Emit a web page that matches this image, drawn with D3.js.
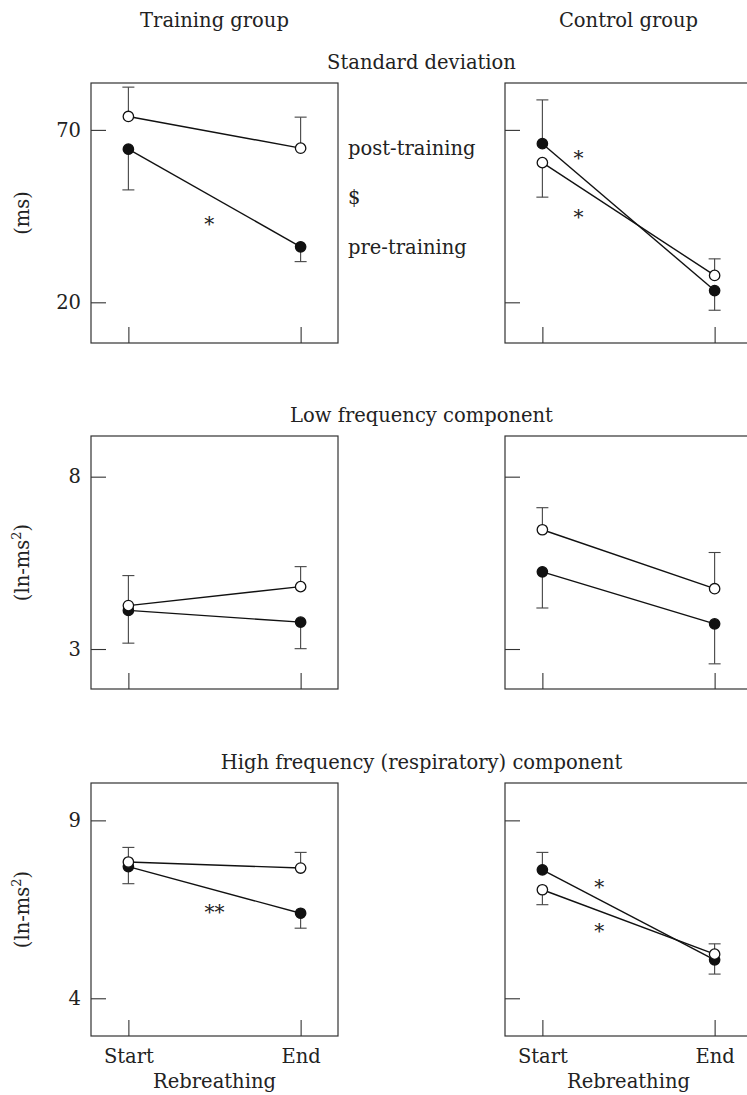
<!DOCTYPE html>
<html>
<head>
<meta charset="utf-8">
<script src="https://cdn.jsdelivr.net/npm/d3@7"></script>
<style>
  body { margin: 0; background: #fff; }
  svg text { font-family: "DejaVu Serif", serif; fill: #222; }
</style>
</head>
<body>
<div id="chart"></div>
<script>
// Rebreathing HRV figure: training vs control, three measures

const groups = ['Training group', 'Control group'];
const measures = ['Standard deviation', 'Low frequency component', 'High frequency (respiratory) component'];
const timepoints = ['Start', 'End'];
const unitLabels = ['ms', 'ln-ms', 'ln-ms'];
const unitPowers = ['', '2', '2'];
const yTickValues = [[20, 70], [3, 8], [4, 9]];
const yDomains = [[8.2, 83.6], [1.84, 9.18], [2.94, 10.05]];
const seriesLabels = ['post-training', '$', 'pre-training'];

// panel order: SD train, SD control, LF train, LF control, HF train, HF control
// each entry is [Start, End]
const preMeans  = [[64.4, 36.1], [66.0, 23.4], [4.12, 3.78], [5.24, 3.73], [7.70, 6.39], [7.61, 5.08]];
const preErrTo  = [[52.6, 31.8], [78.7, 17.7], [3.17, 3.01], [4.19, 2.57], [7.22, 5.97], [8.10, 4.68]];
const postMeans = [[73.9, 64.7], [60.5, 27.8], [4.26, 4.81], [6.46, 4.75], [7.83, 7.66], [7.05, 5.24]];
const postErrTo = [[82.4, 73.7], [50.5, 32.6], [5.13, 5.39], [7.10, 5.80], [8.24, 8.10], [6.63, 5.53]];

// significance marks: panel, position between Start(0) and End(1), value
const sigPanels = [0, 1, 1, 4, 5, 5];
const sigAt     = [0.47, 0.21, 0.21, 0.50, 0.33, 0.33];
const sigValues = [43.9, 63.1, 46.0, 6.53, 7.24, 6.0];
const sigText   = ['*', '*', '*', '**', '*', '*'];

const width = 747, height = 1095;
const colLeft = [91, 505], panelW = 247;
const rowTop = [83, 436, 783], rowH = [260, 253, 253];
const fs = 19.5;

const svg = d3.select('#chart').append('svg')
  .attr('width', width)
  .attr('height', height);

const x = d3.scaleLinear().domain([-0.217, 1.217]).range([0, panelW]);

// group headers
svg.selectAll('text.group')
  .data(groups)
  .enter()
  .append('text')
  .attr('class', 'group')
  .attr('x', (d, i) => colLeft[i] + panelW / 2)
  .attr('y', 27)
  .attr('text-anchor', 'middle')
  .attr('font-size', fs)
  .text(d => d);

// measure titles
svg.selectAll('text.measure')
  .data(measures)
  .enter()
  .append('text')
  .attr('class', 'measure')
  .attr('x', (colLeft[0] + colLeft[1] + panelW) / 2)
  .attr('y', (d, i) => rowTop[i] - 14)
  .attr('text-anchor', 'middle')
  .attr('font-size', fs)
  .text(d => d);

for (let r = 0; r < 3; r++) {
  for (let c = 0; c < 2; c++) {
    const p = r * 2 + c;
    const y = d3.scaleLinear().domain(yDomains[r]).range([rowH[r], 0]);
    const g = svg.append('g').attr('transform', `translate(${colLeft[c]},${rowTop[r]})`);

    g.append('rect')
      .attr('width', panelW).attr('height', rowH[r])
      .attr('fill', 'none').attr('stroke', '#333').attr('stroke-width', 1.2);

    const yAxis = d3.axisLeft(y).tickValues(yTickValues[r])
      .tickSizeInner(-15).tickSizeOuter(0).tickPadding(10)
      .tickFormat(c === 0 ? d3.format('d') : () => '');
    const ya = g.append('g').call(yAxis);
    ya.select('.domain').remove();
    ya.selectAll('line').attr('stroke', '#333').attr('stroke-width', 1.1);
    ya.selectAll('text').attr('font-size', fs).attr('font-family', '"DejaVu Serif", serif').attr('fill', '#222');

    const xAxis = d3.axisBottom(x).tickValues([0, 1])
      .tickSizeInner(-16).tickSizeOuter(0).tickPadding(13)
      .tickFormat(r === 2 ? (d => timepoints[d]) : () => '');
    const xa = g.append('g').attr('transform', `translate(0,${rowH[r]})`).call(xAxis);
    xa.select('.domain').remove();
    xa.selectAll('line').attr('stroke', '#333').attr('stroke-width', 1.1);
    xa.selectAll('text').attr('font-size', fs).attr('font-family', '"DejaVu Serif", serif').attr('fill', '#222');

    if (c === 0) {
      const lab = svg.append('text')
        .attr('transform', `translate(29,${rowTop[r] + rowH[r] / 2}) rotate(-90)`)
        .attr('text-anchor', 'middle')
        .attr('font-size', fs);
      lab.append('tspan').text('(' + unitLabels[r]);
      if (unitPowers[r]) {
        lab.append('tspan').attr('dy', -8).attr('font-size', 13).text(unitPowers[r]);
        lab.append('tspan').attr('dy', 8).text(')');
      } else {
        lab.append('tspan').text(')');
      }
    }

    if (r === 2) {
      svg.append('text')
        .attr('x', colLeft[c] + panelW / 2)
        .attr('y', rowTop[r] + rowH[r] + 52)
        .attr('text-anchor', 'middle')
        .attr('font-size', fs)
        .text('Rebreathing');
    }

    const series = [
      { means: preMeans[p], errs: preErrTo[p], filled: true },
      { means: postMeans[p], errs: postErrTo[p], filled: false }
    ];

    // error bars
    series.forEach(s => {
      s.means.forEach((m, i) => {
        g.append('line')
          .attr('x1', x(i)).attr('x2', x(i))
          .attr('y1', y(m)).attr('y2', y(s.errs[i]))
          .attr('stroke', '#444').attr('stroke-width', 1.1);
        g.append('line')
          .attr('x1', x(i) - 6).attr('x2', x(i) + 6)
          .attr('y1', y(s.errs[i])).attr('y2', y(s.errs[i]))
          .attr('stroke', '#444').attr('stroke-width', 1.1);
      });
    });

    const line = d3.line().x((d, i) => x(i)).y(d => y(d));
    series.forEach(s => {
      g.append('path')
        .attr('d', line(s.means))
        .attr('fill', 'none').attr('stroke', '#111').attr('stroke-width', 1.4);
    });

    series.forEach(s => {
      g.selectAll(null)
        .data(s.means)
        .enter()
        .append('circle')
        .attr('cx', (d, i) => x(i))
        .attr('cy', d => y(d))
        .attr('r', 5.2)
        .attr('fill', s.filled ? '#111' : '#fff')
        .attr('stroke', '#111')
        .attr('stroke-width', 1.3);
    });

    sigPanels.forEach((sp, k) => {
      if (sp !== p) return;
      g.append('text')
        .attr('x', x(sigAt[k]))
        .attr('y', y(sigValues[k]))
        .attr('dy', '0.55em')
        .attr('text-anchor', 'middle')
        .attr('font-size', 20)
        .attr('fill', '#555')
        .text(sigText[k]);
    });

    // series labels next to the first panel
    if (p === 0) {
      const yPost = y(postMeans[0][1]), yPre = y(preMeans[0][1]);
      const ys = [yPost, (yPost + yPre) / 2, yPre];
      g.selectAll('text.series')
        .data(seriesLabels)
        .enter()
        .append('text')
        .attr('class', 'series')
        .attr('x', panelW + 10)
        .attr('y', (d, i) => ys[i])
        .attr('dy', '0.35em')
        .attr('font-size', fs)
        .text(d => d);
    }
  }
}
</script>
</body>
</html>
